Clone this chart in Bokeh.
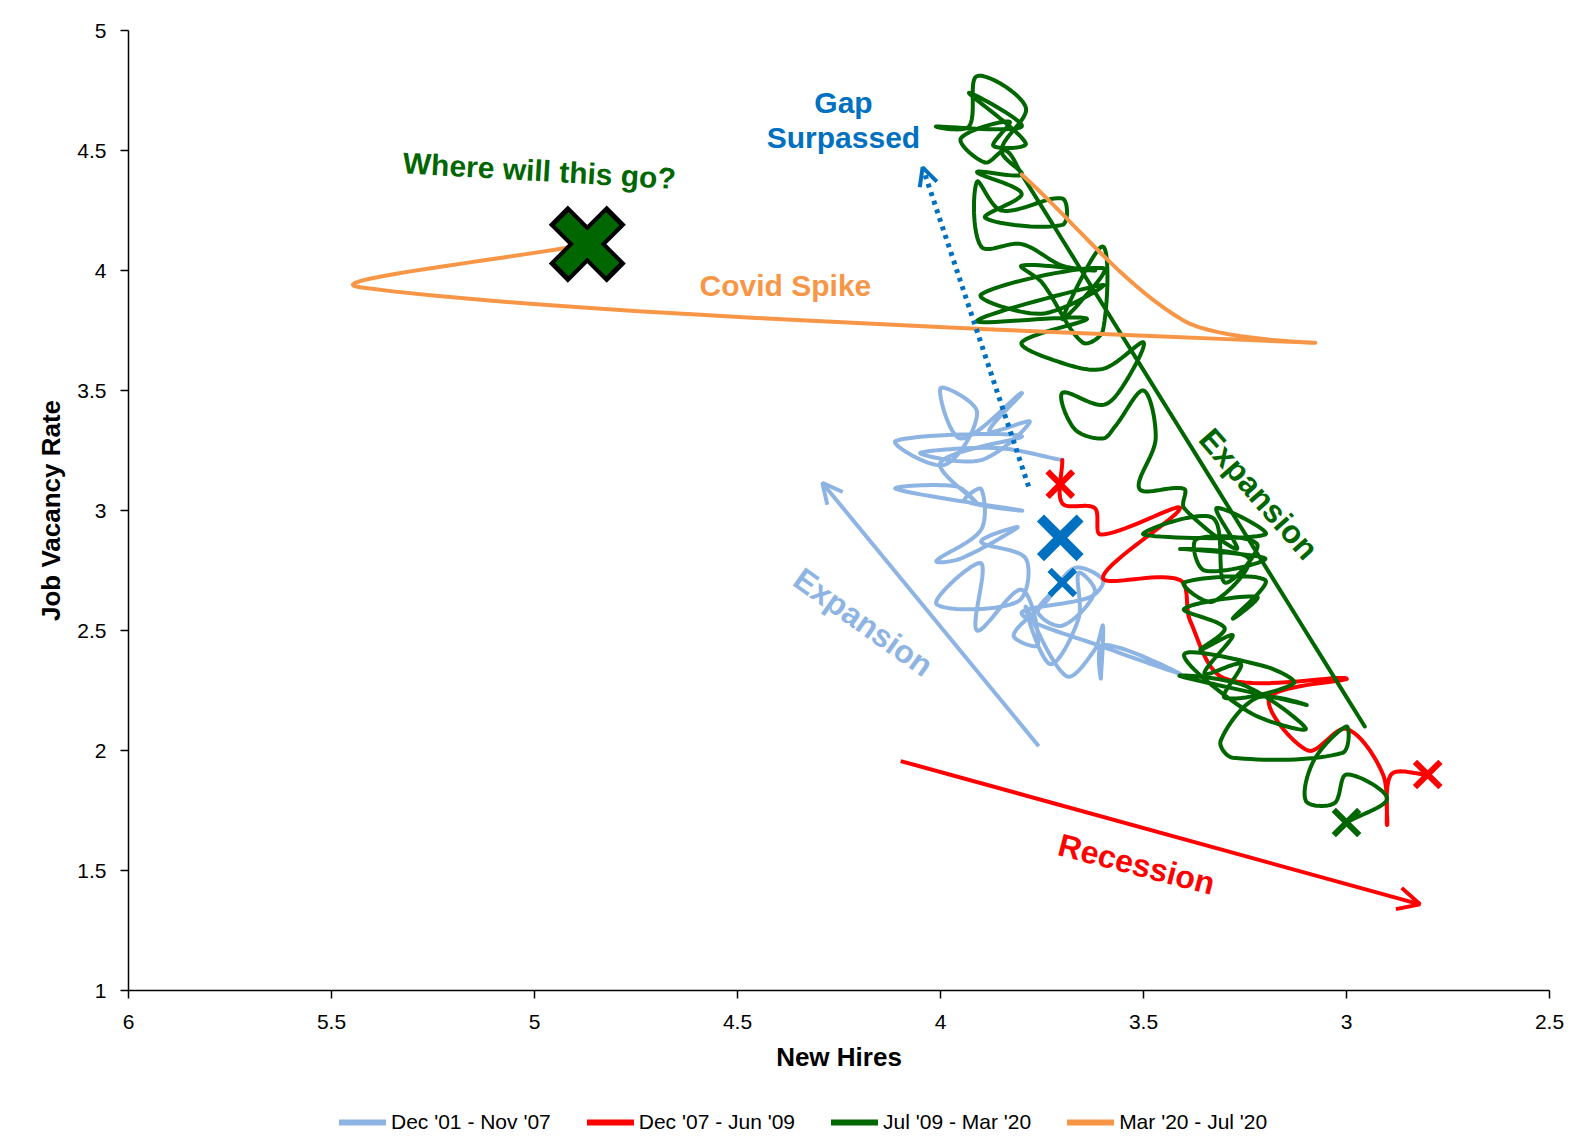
import numpy as np
from bokeh.plotting import figure
from bokeh.layouts import column
from bokeh.models import Range1d, FixedTicker, Arrow, OpenHead, Legend, LegendItem
from bokeh.core.properties import value
from bokeh.embed import file_html
from bokeh.resources import INLINE

# ---------------- data ----------------
x_ticks = [6, 5.5, 5, 4.5, 4, 3.5, 3, 2.5]
x_tick_labels = ["6", "5.5", "5", "4.5", "4", "3.5", "3", "2.5"]
y_ticks = [1, 1.5, 2, 2.5, 3, 3.5, 4, 4.5, 5]
y_tick_labels = ["1", "1.5", "2", "2.5", "3", "3.5", "4", "4.5", "5"]

series_names = ["Dec '01 - Nov '07", "Dec '07 - Jun '09", "Jul '09 - Mar '20", "Mar '20 - Jul '20"]

blue_x = [3.70, 3.76, 3.70, 3.62, 3.66, 3.66, 3.73, 3.79, 3.69, 3.62, 3.60, 3.605, 3.60, 3.41, 3.58,
          3.80, 3.63, 3.60, 3.67, 3.74, 3.82, 3.76, 3.80, 3.91, 3.90, 4.01, 3.81, 3.79, 3.90, 3.81,
          3.95, 4.01, 3.90, 3.90, 3.94, 3.80, 4.11, 3.96, 3.91, 4.00, 3.80, 4.11, 3.99, 3.91, 4.00,
          3.95, 3.80, 3.88, 3.78, 3.90, 4.05, 3.86, 3.70]
blue_y = [2.70, 2.58, 2.52, 2.66, 2.74, 2.55, 2.36, 2.60, 2.31, 2.42, 2.52, 2.30, 2.44, 2.32, 2.42,
          2.57, 2.64, 2.71, 2.76, 2.62, 2.48, 2.44, 2.67, 2.50, 2.78, 2.61, 2.62, 2.80, 2.87, 2.93,
          2.80, 2.79, 2.92, 3.09, 3.04, 3.00, 3.09, 3.10, 3.03, 3.20, 3.31, 3.29, 3.19, 3.41, 3.51,
          3.30, 3.49, 3.33, 3.37, 3.21, 3.24, 3.26, 3.21]

red_x = [3.70, 3.70, 3.62, 3.605, 3.41, 3.60, 3.41, 3.385, 3.30, 3.00, 3.19, 3.095, 3.00, 2.91,
         2.90, 2.89, 2.80]
red_y = [3.21, 3.03, 3.01, 2.90, 3.01, 2.72, 2.71, 2.54, 2.30, 2.30, 2.22, 2.00, 2.09, 1.90,
         1.69, 1.90, 1.90]

green_x = [3.00, 2.90, 3.00, 3.03, 3.10, 3.08, 3.00, 3.01, 3.28, 3.31, 3.22, 3.10, 3.41, 3.25, 3.10,
           3.24, 3.40, 3.20, 3.13, 3.30, 3.26, 3.35, 3.28, 3.36, 3.30,
           3.40, 3.22, 3.28, 3.20, 3.40, 3.33, 3.24, 3.41, 3.20, 3.35, 3.37, 3.22, 3.30, 3.33, 3.50,
           3.20, 3.32, 3.27, 3.40,
           3.40, 3.51, 3.47, 3.50, 3.57, 3.60, 3.67, 3.70, 3.60, 3.55, 3.50, 3.60,
           3.71, 3.80, 3.64, 3.91, 3.60, 3.75, 3.90, 3.60, 3.66, 3.70, 3.60, 3.60, 3.65, 3.75, 3.80, 3.62,
           3.70, 3.80, 3.90, 3.91, 3.85, 3.70, 3.70, 3.89, 3.80, 3.91, 3.80, 3.85, 3.79, 3.91, 3.93,
           4.01, 3.80, 3.93, 3.79, 3.87, 3.83, 3.95, 3.89, 3.84, 3.80, 2.955]
green_y = [1.70, 1.80, 1.90, 1.78, 1.79, 1.96, 2.10, 1.99, 1.97, 2.04, 2.22, 2.19, 2.31, 2.27, 2.09,
           2.16, 2.40, 2.35, 2.28, 2.22, 2.36, 2.32, 2.48, 2.42, 2.51,
           2.59, 2.64, 2.55, 2.71, 2.70, 2.62, 2.80, 2.84, 2.80, 2.75, 2.88, 2.86, 2.70, 2.97, 2.90,
           2.90, 3.01, 2.84, 3.01,
           3.09, 3.09, 3.30, 3.50, 3.35, 3.30, 3.34, 3.49, 3.44, 3.52, 3.70, 3.59,
           3.62, 3.70, 3.80, 3.79, 3.94, 3.82, 3.90, 4.01, 3.86, 3.80, 4.10, 3.75, 3.70, 3.95, 4.02, 4.00,
           4.02, 4.11, 4.10, 4.37, 4.25, 4.30, 4.19, 4.22, 4.32, 4.41, 4.40, 4.50, 4.68, 4.81, 4.60,
           4.60, 4.60, 4.74, 4.53, 4.52, 4.62, 4.55, 4.45, 4.50, 4.40, 2.10]

orange_x = [3.80, 3.40, 3.09, 5.43, 4.87]
orange_y = [4.40, 3.79, 3.70, 3.93, 4.11]

# highlighted points (x markers)
blue_mark_x, blue_mark_y = [3.70], [2.70]
blue_big_x, blue_big_y = [3.705], [2.886]
red_mark_x, red_mark_y = [3.705, 2.80], [3.11, 1.90]
green_mark_x, green_mark_y = [3.00], [1.70]
latest_x, latest_y = [4.87], [4.11]

# ---------------- styling ----------------
C_BLUE = "#8DB4E2"
C_RED = "#FF0000"
C_GREEN = "#006600"
C_ORANGE = "#F79646"
C_DARKBLUE = "#0070C0"
SERIES_COLORS = [C_BLUE, C_RED, C_GREEN, C_ORANGE]
FONT = "Liberation Sans"

FRAME_W, FRAME_H = 1421, 960
SX = FRAME_W / 3.5
SY = FRAME_H / 4.0
FIG_W = 128 + FRAME_W + 33


def smooth(xs, ys, steps=18, tension=1 / 3):
    """Excel-like smoothed line through the given points (rendering only)."""
    P = np.column_stack([np.asarray(xs, float) * SX, np.asarray(ys, float) * SY])
    n = len(P)
    out = [P[0]]
    t = np.linspace(0, 1, steps + 1)[1:, None]
    for i in range(n - 1):
        p0 = P[i - 1] if i > 0 else P[i]
        p1, p2 = P[i], P[i + 1]
        p3 = P[i + 2] if i + 2 < n else P[i + 1]
        d01 = np.linalg.norm(p1 - p0)
        d12 = np.linalg.norm(p2 - p1)
        d23 = np.linalg.norm(p3 - p2)
        a = tension * d12 / (d01 + d12) if d01 + d12 > 0 else 0
        b = tension * d12 / (d12 + d23) if d12 + d23 > 0 else 0
        c1 = p1 + (p2 - p0) * a
        c2 = p2 - (p3 - p1) * b
        seg = (1 - t) ** 3 * p1 + 3 * (1 - t) ** 2 * t * c1 + 3 * (1 - t) * t ** 2 * c2 + t ** 3 * p2
        out.extend(seg)
    out = np.array(out)
    return out[:, 0] / SX, out[:, 1] / SY


p = figure(frame_width=FRAME_W, frame_height=FRAME_H,
           x_range=Range1d(6, 2.5), y_range=Range1d(1, 5),
           output_backend="svg", toolbar_location=None,
           min_border_left=128, min_border_right=33, min_border_top=30, min_border_bottom=88,
           background_fill_color="white", border_fill_color="white")
p.outline_line_color = None
p.grid.visible = False

for ax in (p.xaxis[0], p.yaxis[0]):
    ax.axis_line_color = "black"
    ax.axis_line_width = 1.5
    ax.major_tick_line_color = "black"
    ax.major_tick_line_width = 1.5
    ax.major_tick_out = 8
    ax.major_tick_in = 0
    ax.minor_tick_line_color = None
    ax.major_label_text_font = FONT
    ax.major_label_text_font_size = "21px"
    ax.major_label_text_color = "black"
    ax.axis_label_text_font = FONT
    ax.axis_label_text_font_style = "bold"
    ax.axis_label_text_font_size = "26px"
    ax.axis_label_text_color = "black"

p.xaxis.ticker = FixedTicker(ticks=x_ticks)
p.xaxis.major_label_overrides = {float(k): v for k, v in zip(x_ticks, x_tick_labels)}
p.yaxis.ticker = FixedTicker(ticks=y_ticks)
p.yaxis.major_label_overrides = {float(k): v for k, v in zip(y_ticks, y_tick_labels)}
p.xaxis.major_label_standoff = 16
p.yaxis.major_label_standoff = 14
p.xaxis.axis_label = "New Hires"
p.xaxis.axis_label_standoff = 10
p.yaxis.axis_label = "Job Vacancy Rate"
p.yaxis.axis_label_standoff = 8

# ---------------- series ----------------
for xs, ys, col in zip([blue_x, red_x, green_x, orange_x], [blue_y, red_y, green_y, orange_y], SERIES_COLORS):
    sx, sy = smooth(xs, ys)
    p.line(sx, sy, line_color=col, line_width=4, line_join="round", line_cap="round")

# ---------------- markers ----------------
p.scatter(blue_mark_x, blue_mark_y, marker="x", size=36, line_color=C_DARKBLUE, line_width=6)
p.scatter(blue_big_x, blue_big_y, marker="x", size=56, line_color=C_DARKBLUE, line_width=10)
p.scatter(red_mark_x, red_mark_y, marker="x", size=36, line_color=C_RED, line_width=6)
p.scatter(green_mark_x, green_mark_y, marker="x", size=36, line_color=C_GREEN, line_width=6)
p.scatter(latest_x, latest_y, marker="x", size=82, line_color="black", line_width=27)
p.scatter(latest_x, latest_y, marker="x", size=72, line_color=C_GREEN, line_width=19)

# ---------------- arrows ----------------
p.add_layout(Arrow(end=OpenHead(line_color=C_DARKBLUE, line_width=4, size=18),
                   x_start=3.783, y_start=3.10, x_end=4.044, y_end=4.43,
                   line_color=C_DARKBLUE, line_width=5, line_dash="4 5"))
p.add_layout(Arrow(end=OpenHead(line_color=C_BLUE, line_width=4, size=20),
                   x_start=3.758, y_start=2.018, x_end=4.291, y_end=3.115,
                   line_color=C_BLUE, line_width=4))
p.add_layout(Arrow(end=OpenHead(line_color=C_RED, line_width=4, size=22),
                   x_start=4.098, y_start=1.956, x_end=2.819, y_end=1.359,
                   line_color=C_RED, line_width=4))

# ---------------- annotation texts ----------------
def note(x, y, txt, color, angle_deg=0.0, size="30px"):
    p.text([x], [y], text=[txt], text_color=color, text_font=value(FONT),
           text_font_style="bold", text_font_size=value(size),
           text_align="center", text_baseline="middle", angle=np.deg2rad(angle_deg))

note(4.239, 4.70, "Gap", C_DARKBLUE)
note(4.239, 4.554, "Surpassed", C_DARKBLUE)
note(4.988, 4.416, "Where will this go?", C_GREEN, -3.3)
note(4.382, 3.937, "Covid Spike", C_ORANGE)
note(3.216, 3.069, "Expansion", C_GREEN, -48.7, "32px")
note(4.19, 2.535, "Expansion", C_BLUE, -35.4, "32px")
note(3.517, 1.526, "Recession", C_RED, -14.5, "32px")

# ---------------- legend strip below the chart ----------------
lg = figure(width=FIG_W, height=66, x_range=Range1d(0, 1), y_range=Range1d(0, 1),
            output_backend="svg", toolbar_location=None,
            x_axis_location=None, y_axis_location=None,
            min_border_left=0, min_border_right=0, min_border_top=0, min_border_bottom=0,
            background_fill_color="white", border_fill_color="white")
lg.outline_line_color = None
lg.grid.visible = False
# legend-only glyphs (no visible marks in the strip itself)
legend_renderers = [lg.line([np.nan, np.nan], [np.nan, np.nan], line_color=c, line_width=6, line_cap="round")
                    for c in SERIES_COLORS]
legend = Legend(items=[LegendItem(label=n, renderers=[r]) for n, r in zip(series_names, legend_renderers)],
                orientation="horizontal", location=(211, 10),
                glyph_width=47, glyph_height=20, label_standoff=5, spacing=36,
                padding=0, margin=0, border_line_alpha=0, background_fill_alpha=0,
                label_text_font=FONT, label_text_font_size="21px", label_text_color="black")
lg.add_layout(legend, "center")

open("out.html", "w").write(file_html(column(p, lg, spacing=0), INLINE))
